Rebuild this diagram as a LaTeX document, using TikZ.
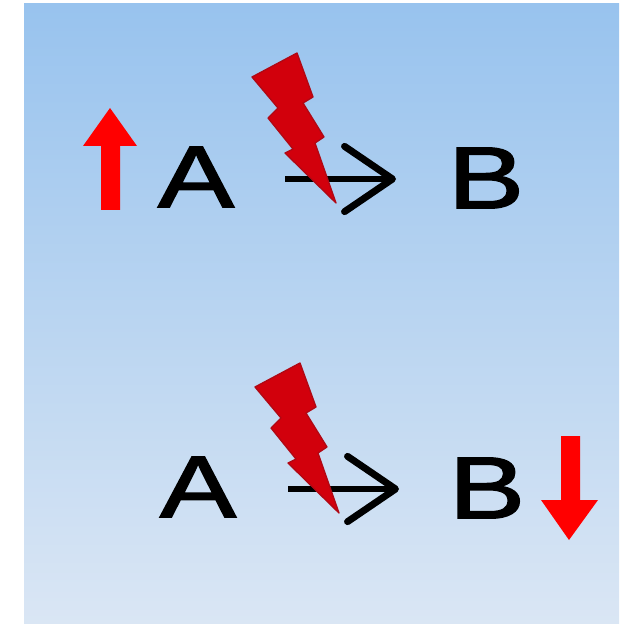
\documentclass[tikz,border=0pt]{standalone}
\usepackage{fontspec}
\setmainfont{Liberation Sans}
\newfontfamily\lettersfont[FakeBold=1.6]{Liberation Sans}
\usetikzlibrary{arrows.meta}
\definecolor{skytop}{HTML}{98C3EE}
\definecolor{skybot}{HTML}{DAE6F4}
\definecolor{boltred}{HTML}{D2000C}
\definecolor{boltedge}{HTML}{B00814}
\tikzset{
  x=.75pt,y=-.75pt,
  letter/.style={font=\lettersfont\fontsize{66}{66}\selectfont,text=black,inner sep=0pt,xscale=1.3,transform shape},
  link/.style={line width=5.2pt,draw=black,-{Straight Barb[length=36pt,width=49pt,line width=5.2pt,round]}},
  bolt/.style={fill=boltred,draw=boltedge,line width=1pt,line join=round},
  updown/.style={fill=red,draw=none},
}
\begin{document}
\begin{tikzpicture}
\useasboundingbox (0,0) rectangle (625,624);
\shade[top color=skytop,bottom color=skybot] (24,4) rectangle (619,624);
% upper row
\node[letter] (a1) at (196,177) {A};
\node[letter] (b1) at (486,178) {B};
\coordinate (s1) at (285,179);
\coordinate (e1) at (396,179);
\draw[link] (s1) -- (e1);
\draw[bolt] (297,53) -- (252,77) -- (278,108) -- (268,118) -- (293,149) -- (285,153) -- (336,203) -- (315,143) -- (324,137) -- (303,103) -- (313,97) -- cycle;
\fill[updown] (110,108) -- (137,146) -- (120,146) -- (120,210) -- (101,210) -- (101,146) -- (83,146) -- cycle;
% lower row
\node[letter] (a2) at (198,487) {A};
\node[letter] (b2) at (487,488) {B};
\coordinate (s2) at (288,489);
\coordinate (e2) at (399,489);
\draw[link] (s2) -- (e2);
\draw[bolt] (300,363) -- (255,387) -- (281,418) -- (271,428) -- (296,459) -- (288,463) -- (339,513) -- (318,453) -- (327,447) -- (306,413) -- (316,407) -- cycle;
\fill[updown] (569,540) -- (598,500) -- (580,500) -- (580,436) -- (561,436) -- (561,500) -- (541,500) -- cycle;
\end{tikzpicture}
\end{document}
